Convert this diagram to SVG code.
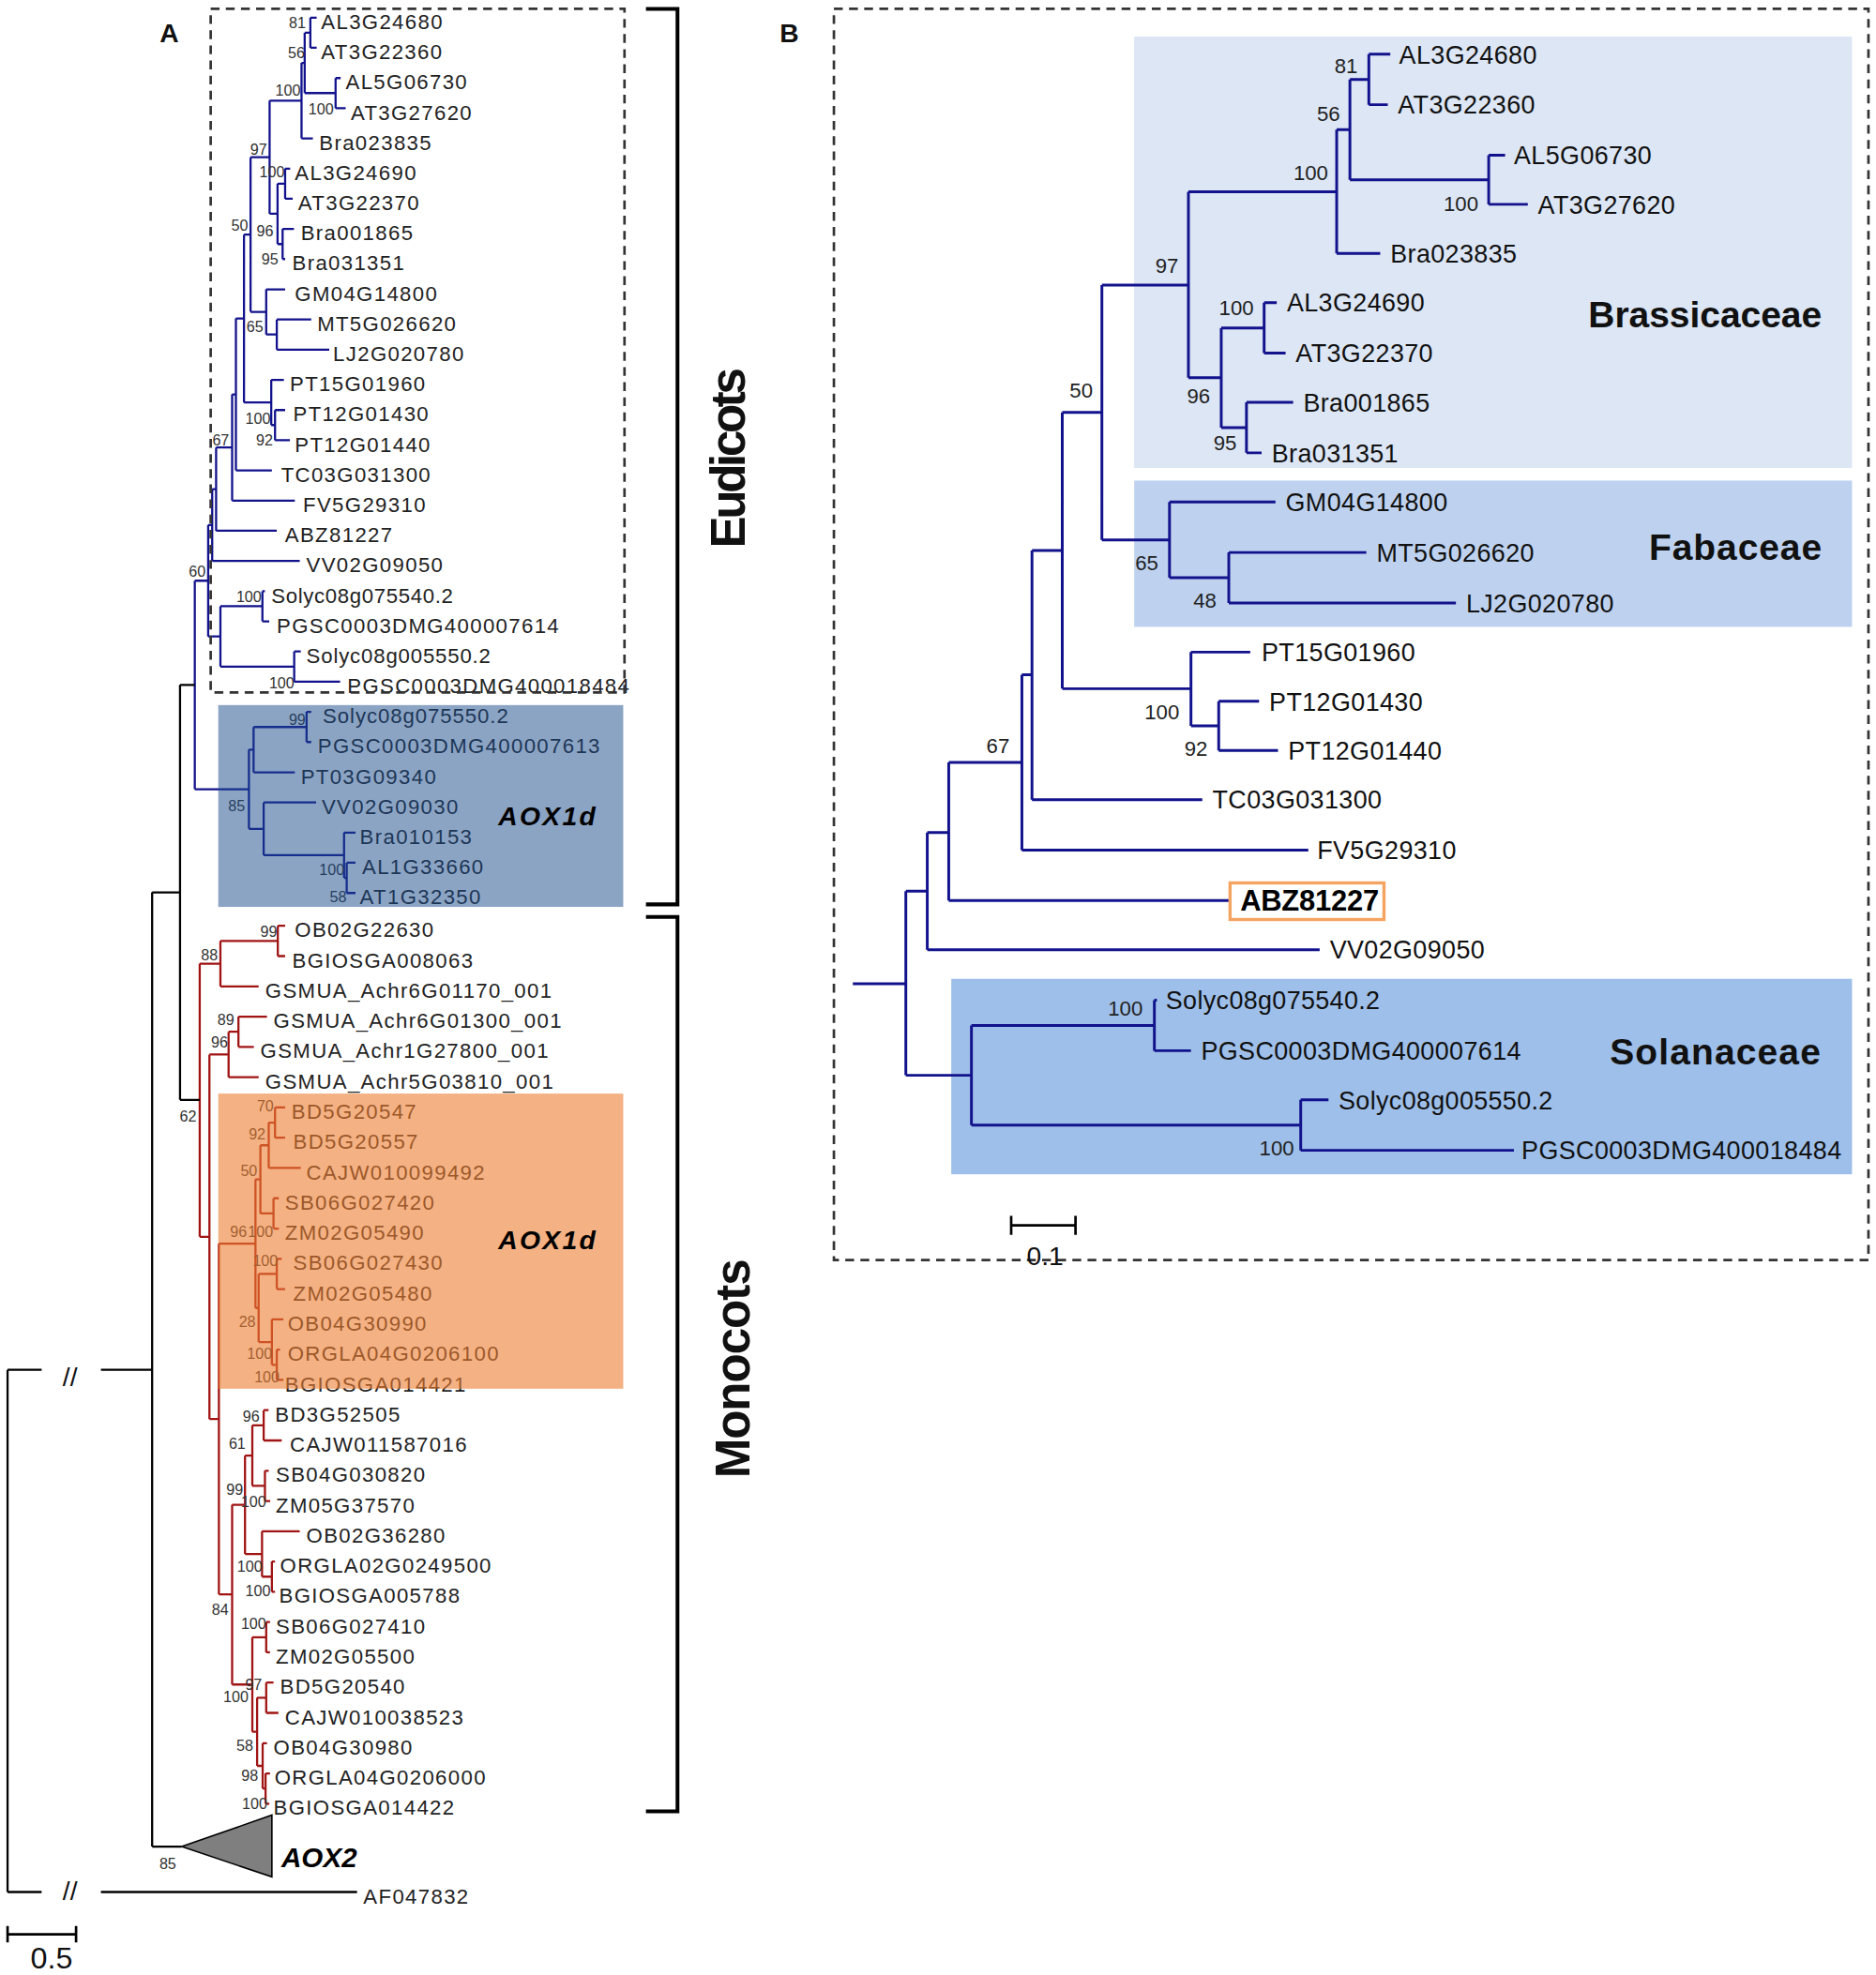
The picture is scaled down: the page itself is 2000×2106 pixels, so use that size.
<svg xmlns="http://www.w3.org/2000/svg" width="2000" height="2106" viewBox="0 0 2000 2106">
<style>
.lf{font-family:"Liberation Sans",Arial,sans-serif;font-size:16.5px;letter-spacing:1px;fill:#222}
.bs{font-family:"Liberation Sans",Arial,sans-serif;font-size:12px;fill:#333;text-anchor:middle}
.lfB{font-family:"Liberation Sans",Arial,sans-serif;font-size:20px;letter-spacing:0.3px;fill:#111}
.bsB{font-family:"Liberation Sans",Arial,sans-serif;font-size:16.5px;fill:#222;text-anchor:middle}
.grp{font-family:"Liberation Sans",Arial,sans-serif;font-weight:bold;fill:#111}
.bi{font-family:"Liberation Sans",Arial,sans-serif;font-weight:bold;font-style:italic;fill:#000}
.blue{fill:none;stroke:#12128c;stroke-width:1.7}
.red{fill:none;stroke:#a01414;stroke-width:1.7}
.blk{fill:none;stroke:#000;stroke-width:1.7}
.blueB{fill:none;stroke:#12128c;stroke-width:2.2}
.dash{fill:none;stroke:#333;stroke-width:2;stroke-dasharray:7,5}
</style>
<rect width="2000" height="2106" fill="#fff"/>
<g transform="scale(1.345)">
<!-- ===================== PANEL A ===================== -->
<g id="panelA">
<text class="grp" x="126.5" y="33.5" font-size="21">A</text>
<g id="A-connectors">
<path class="blue" d="M246,14V37.9M246,14H251M246,37.9H251
M266,61.9V85.8M266,61.9H270M266,85.8H274
M241.5,26V73.8M241.5,26H246M241.5,73.8H266
M239,49.9V109.7M239,49.9H241.5M239,109.7H248
M226,133.7V157.6M226,133.7H230M226,157.6H232
M224,181.5V205.4M224,181.5H233M224,205.4H226
M220,145.6V193.5M220,145.6H226M220,193.5H224
M213.7,79.8V169.5M213.7,79.8H239M213.7,169.5H220
M219.4,253.3V277.2M219.4,253.3H246.7M219.4,277.2H261
M211,229.4V265.2M211,229.4H226M211,265.2H219.4
M198.6,124.7V247.3M198.6,124.7H213.7M198.6,247.3H211
M218,325.1V349M218,325.1H226M218,349H229.8
M215,301.2V337M215,301.2H225M215,337H218
M193.4,186V319.1M193.4,186H198.6M193.4,319.1H215
M187,252.5V372.9M187,252.5H193.4M187,372.9H215.5
M184,312.7V396.9M184,312.7H187M184,396.9H233.7
M171.3,354.8V420.8M171.3,354.8H184M171.3,420.8H219.4
M168.2,387.8V444.7M168.2,387.8H171.3M168.2,444.7H237.6
M208,468.7V492.6M208,468.7H210M208,492.6H213.4
M233.2,516.5V540.5M233.2,516.5H238.4M233.2,540.5H269.6
M174.7,480.6V528.5M174.7,480.6H208M174.7,528.5H233.2
M165,416.2V504.6M165,416.2H168.2M165,504.6H174.7
M243,564.4V588.3M243,564.4H246.7M243,588.3H246.7
M201,576.4V612.3M201,576.4H243M201,612.3H233.7
M274.8,684V708M274.8,684H281.8M274.8,708H281.8
M272.7,660.1V696M272.7,660.1H281.8M272.7,696H274.8
M209,636.2V678M209,636.2H250.6M209,678H272.7
M197.3,594.3V657.1M197.3,594.3H201M197.3,657.1H209
M154.4,460.4V625.7M154.4,460.4H165M154.4,625.7H197.3"/>
<path class="red" d="M220.2,734V758M220.2,734H226M220.2,758H226
M174.7,746V782M174.7,746H220.2M174.7,782H205
M189,806V830M189,806H211.6M189,830H201.2
M181.2,818V854M181.2,818H189M181.2,854H205
M218,878V902M218,878H226M218,902H226
M213,890V926M213,890H218M213,926H238.4
M216.8,950V974M216.8,950H221M216.8,974H221
M206.4,908V962M206.4,908H213M206.4,962H216.8
M219.4,998V1022M219.4,998H223.3M219.4,1022H226
M219.4,1070V1094M219.4,1070H222M219.4,1094H224.6
M215.5,1046V1082M215.5,1046H224.6M215.5,1082H219.4
M205,1010V1064M205,1010H219.4M205,1064H215.5
M202.5,935V1037M202.5,935H206.4M202.5,1037H205
M209,1118V1142M209,1118H212.9M209,1142H223.3
M210,1166V1190M210,1166H213M210,1190H214.2
M200,1130V1178M200,1130H209M200,1178H210
M215.5,1238V1262M215.5,1238H218M215.5,1262H218
M207.7,1214V1250M207.7,1214H237.6M207.7,1250H215.5
M194.2,1154V1232M194.2,1154H200M194.2,1232H207.7
M211,1286V1310M211,1286H214M211,1310H214
M211,1334V1358M211,1334H216.8M211,1358H220.7
M210.5,1406V1430M210.5,1406H214M210.5,1430H213.5
M208.2,1382V1418M208.2,1382H211.6M208.2,1418H210.5
M203.8,1346V1400M203.8,1346H211M203.8,1400H208.2
M200,1298V1373M200,1298H211M200,1373H203.8
M184,1193V1335.5M184,1193H194.2M184,1335.5H200
M173.5,986V1264M173.5,986H202.5M173.5,1264H184
M166,836V1125M166,836H181.2M166,1125H173.5
M158.3,764V980.5M158.3,764H174.7M158.3,980.5H166"/>
<path class="blk" d="M142.7,543V872M142.7,543H154.4M142.7,872H158.3
M120.6,707.5V1464M120.6,707.5H142.7M120.6,1464H144
M6,1086V1500M6,1086H33M80,1086H120.6M6,1500H33M80,1500H283"/>
</g>
<g id="A-AOX2">
<polygon points="144,1464 215.5,1439 215.5,1488" fill="#7f7f7f" stroke="#000" stroke-width="1.2"/>
<text class="bi" x="223" y="1480" font-size="22" textLength="60">AOX2</text>
</g>
<g id="A-breaks" font-family="Liberation Sans, Arial, sans-serif" font-size="21" fill="#111" text-anchor="middle">
<text x="55.5" y="1099">//</text>
<text x="55.5" y="1506">//</text>
</g>
<g id="A-leaves">
<text class="lf" x="254.5" y="23">AL3G24680</text>
<text class="lf" x="254.5" y="46.9">AT3G22360</text>
<text class="lf" x="274" y="70.9">AL5G06730</text>
<text class="lf" x="278" y="94.8">AT3G27620</text>
<text class="lf" x="253" y="118.7">Bra023835</text>
<text class="lf" x="233.7" y="142.7">AL3G24690</text>
<text class="lf" x="236.3" y="166.6">AT3G22370</text>
<text class="lf" x="238.4" y="190.5">Bra001865</text>
<text class="lf" x="231.6" y="214.4">Bra031351</text>
<text class="lf" x="233.7" y="238.4">GM04G14800</text>
<text class="lf" x="251.4" y="262.3">MT5G026620</text>
<text class="lf" x="264" y="286.2">LJ2G020780</text>
<text class="lf" x="229.8" y="310.2">PT15G01960</text>
<text class="lf" x="232.4" y="334.1">PT12G01430</text>
<text class="lf" x="233.7" y="358">PT12G01440</text>
<text class="lf" x="222.8" y="381.9">TC03G031300</text>
<text class="lf" x="240.2" y="405.9">FV5G29310</text>
<text class="lf" x="225.9" y="429.8">ABZ81227</text>
<text class="lf" x="242.8" y="453.7">VV02G09050</text>
<text class="lf" x="215" y="477.7" textLength="145">Solyc08g075540.2</text>
<text class="lf" x="219.4" y="501.6">PGSC0003DMG400007614</text>
<text class="lf" x="242.8" y="525.5" textLength="147">Solyc08g005550.2</text>
<text class="lf" x="275.3" y="549.5">PGSC0003DMG400018484</text>
<text class="lf" x="255.8" y="573.4" textLength="148">Solyc08g075550.2</text>
<text class="lf" x="251.9" y="597.3">PGSC0003DMG400007613</text>
<text class="lf" x="238.4" y="621.3">PT03G09340</text>
<text class="lf" x="255" y="645.2">VV02G09030</text>
<text class="lf" x="285.2" y="669.1">Bra010153</text>
<text class="lf" x="287" y="693">AL1G33660</text>
<text class="lf" x="285.2" y="717">AT1G32350</text>
<text class="lf" x="233.7" y="743">OB02G22630</text>
<text class="lf" x="231.6" y="767">BGIOSGA008063</text>
<text class="lf" x="210.3" y="791">GSMUA_Achr6G01170_001</text>
<text class="lf" x="216.8" y="815">GSMUA_Achr6G01300_001</text>
<text class="lf" x="206.4" y="839">GSMUA_Achr1G27800_001</text>
<text class="lf" x="210.3" y="863">GSMUA_Achr5G03810_001</text>
<text class="lf" x="231.1" y="887">BD5G20547</text>
<text class="lf" x="232.4" y="911">BD5G20557</text>
<text class="lf" x="242.8" y="935">CAJW010099492</text>
<text class="lf" x="225.9" y="959">SB06G027420</text>
<text class="lf" x="225.9" y="983">ZM02G05490</text>
<text class="lf" x="232.4" y="1007">SB06G027430</text>
<text class="lf" x="232.4" y="1031">ZM02G05480</text>
<text class="lf" x="228" y="1055">OB04G30990</text>
<text class="lf" x="228" y="1079">ORGLA04G0206100</text>
<text class="lf" x="225.9" y="1103">BGIOSGA014421</text>
<text class="lf" x="218.1" y="1127">BD3G52505</text>
<text class="lf" x="229.8" y="1151">CAJW011587016</text>
<text class="lf" x="218.6" y="1175">SB04G030820</text>
<text class="lf" x="218.6" y="1199">ZM05G37570</text>
<text class="lf" x="242.8" y="1223">OB02G36280</text>
<text class="lf" x="222" y="1247">ORGLA02G0249500</text>
<text class="lf" x="221.2" y="1271">BGIOSGA005788</text>
<text class="lf" x="218.6" y="1295">SB06G027410</text>
<text class="lf" x="218.6" y="1319">ZM02G05500</text>
<text class="lf" x="222" y="1343">BD5G20540</text>
<text class="lf" x="225.9" y="1367">CAJW010038523</text>
<text class="lf" x="216.8" y="1391">OB04G30980</text>
<text class="lf" x="217.6" y="1415">ORGLA04G0206000</text>
<text class="lf" x="216.8" y="1439">BGIOSGA014422</text>
<text class="lf" x="288" y="1509">AF047832</text>
</g>
<g id="A-bootstrap">
<text class="bs" x="235.7" y="22.6">81</text>
<text class="bs" x="235" y="46">56</text>
<text class="bs" x="228.3" y="76">100</text>
<text class="bs" x="254.5" y="90.8">100</text>
<text class="bs" x="205" y="123">97</text>
<text class="bs" x="215.6" y="140.4">100</text>
<text class="bs" x="190" y="182.6">50</text>
<text class="bs" x="210" y="187.5">96</text>
<text class="bs" x="214" y="209.8">95</text>
<text class="bs" x="202" y="263">65</text>
<text class="bs" x="204.5" y="336">100</text>
<text class="bs" x="209.6" y="353">92</text>
<text class="bs" x="175" y="353.4">67</text>
<text class="bs" x="156.3" y="457.6">60</text>
<text class="bs" x="197.3" y="477.4">100</text>
<text class="bs" x="223.3" y="545.6">100</text>
<text class="bs" x="235.6" y="575">99</text>
<text class="bs" x="187.5" y="643.3">85</text>
<text class="bs" x="263" y="694">100</text>
<text class="bs" x="268" y="715">58</text>
<text class="bs" x="213" y="742.5">99</text>
<text class="bs" x="166" y="761">88</text>
<text class="bs" x="179" y="813">89</text>
<text class="bs" x="174" y="830.6">96</text>
<text class="bs" x="149" y="889">62</text>
<text class="bs" x="210.3" y="881.4">70</text>
<text class="bs" x="203.8" y="903.7">92</text>
<text class="bs" x="197.3" y="932">50</text>
<text class="bs" x="189" y="980.5">96</text>
<text class="bs" x="206.5" y="980.5">100</text>
<text class="bs" x="210.3" y="1004">100</text>
<text class="bs" x="196" y="1052.4">28</text>
<text class="bs" x="205.8" y="1077">100</text>
<text class="bs" x="211.6" y="1095.8">100</text>
<text class="bs" x="199" y="1126.8">96</text>
<text class="bs" x="188" y="1149">61</text>
<text class="bs" x="186" y="1185">99</text>
<text class="bs" x="201" y="1195">100</text>
<text class="bs" x="198" y="1245.8">100</text>
<text class="bs" x="204.5" y="1265.6">100</text>
<text class="bs" x="174.5" y="1280.5">84</text>
<text class="bs" x="201" y="1291.7">100</text>
<text class="bs" x="201" y="1339.9">97</text>
<text class="bs" x="187" y="1349.8">100</text>
<text class="bs" x="194" y="1388.2">58</text>
<text class="bs" x="198" y="1411.8">98</text>
<text class="bs" x="201.8" y="1434">100</text>
<text class="bs" x="133" y="1482" font-size="14">85</text>
</g>
<g id="A-AOX1d-eudicot">
<rect x="173" y="559" width="321" height="160" fill="#194989" fill-opacity="0.5"/>
<text class="bi" x="395" y="654" font-size="21" textLength="77">AOX1d</text>
</g>
<g id="A-AOX1d-monocot">
<rect x="173" y="867" width="321" height="234" fill="#ED7D31" fill-opacity="0.6"/>
<text class="bi" x="395" y="990" font-size="21" textLength="77">AOX1d</text>
</g>
<rect id="A-eudicot-frame" class="dash" x="167" y="7" width="328" height="542"/>
<g id="A-brackets">
<path d="M512,7H537V717H512M512,727H537V1436H512" fill="none" stroke="#000" stroke-width="3"/>
<text class="grp" font-size="38" textLength="143" transform="translate(590,434.5) rotate(-90)">Eudicots</text>
<text class="grp" font-size="38" textLength="174" transform="translate(594,1172) rotate(-90)">Monocots</text>
</g>
<g id="A-scale">
<path d="M6,1533.5H60.3M6,1527V1540M60.3,1527V1540" fill="none" stroke="#000" stroke-width="2"/>
<text x="40.9" y="1560.5" font-family="Liberation Sans, Arial, sans-serif" font-size="24" fill="#111" text-anchor="middle">0.5</text>
</g>
</g>
<!-- ===================== PANEL B ===================== -->
<g id="panelB">
<text class="grp" x="618" y="33.5" font-size="21">B</text>
<rect id="B-frame" class="dash" x="661" y="7" width="820" height="992"/>
<g id="B-Brassicaceae">
<rect x="899" y="29" width="569" height="342" fill="#dce6f5"/>
<text class="grp" x="1259" y="259.5" font-size="29" textLength="185">Brassicaceae</text>
</g>
<g id="B-Fabaceae">
<rect x="899" y="381" width="569" height="116" fill="#bed2ef"/>
<text class="grp" x="1307" y="443.5" font-size="29" textLength="137">Fabaceae</text>
</g>
<g id="B-Solanaceae">
<rect x="754" y="776" width="714" height="155" fill="#9ebfe9"/>
<text class="grp" x="1276" y="843.5" font-size="29" textLength="167">Solanaceae</text>
</g>
<g id="B-connectors">
<path class="blueB" d="M1085,43V83M1085,43H1102M1085,83H1100
M1180,123V162M1180,123H1193M1180,162H1211
M1070,63V142.5M1070,63H1085M1070,142.5H1180
M1059.5,102.75V201M1059.5,102.75H1070M1059.5,201H1094
M1002,240V280M1002,240H1012M1002,280H1019
M988,319V359M988,319H1025M988,359H1000
M968,260V339M968,260H1002M968,339H988
M942,152V299.5M942,152H1059.5M942,299.5H968
M974,438V478M974,438H1083M974,478H1154
M927,398V458M927,398H1011M927,458H974
M873.4,226V428M873.4,226H942M873.4,428H927
M966,556V595M966,556H998M966,595H1013
M944,517V575.5M944,517H991M944,575.5H966
M842,327V546M842,327H873.4M842,546H944
M818,436.5V634M818,436.5H842M818,634H953
M810,535V674M810,535H818M810,674H1037
M752,604.5V714M752,604.5H810M752,714H975
M735,660V753M735,660H752M735,753H1046
M915,793V833M915,793H917M915,833H944
M1031,872V912M1031,872H1053M1031,912H1200
M770,813V892M770,813H915M770,892H1031
M718,706.5V852.5M718,706.5H735M718,852.5H770
M676,780H718"/>
</g>
<g id="B-leaves">
<text class="lfB" x="1109" y="50.2">AL3G24680</text>
<text class="lfB" x="1108" y="90.2">AT3G22360</text>
<text class="lfB" x="1200" y="130.2">AL5G06730</text>
<text class="lfB" x="1219" y="169.2">AT3G27620</text>
<text class="lfB" x="1102" y="208.2">Bra023835</text>
<text class="lfB" x="1020" y="247.2">AL3G24690</text>
<text class="lfB" x="1027" y="287.2">AT3G22370</text>
<text class="lfB" x="1033" y="326.2">Bra001865</text>
<text class="lfB" x="1008" y="366.2">Bra031351</text>
<text class="lfB" x="1019" y="405.2">GM04G14800</text>
<text class="lfB" x="1091" y="445.2">MT5G026620</text>
<text class="lfB" x="1162" y="485.2">LJ2G020780</text>
<text class="lfB" x="1000" y="524.2">PT15G01960</text>
<text class="lfB" x="1006" y="563.2">PT12G01430</text>
<text class="lfB" x="1021" y="602.2">PT12G01440</text>
<text class="lfB" x="961" y="641.2">TC03G031300</text>
<text class="lfB" x="1044" y="681.2">FV5G29310</text>
<text class="lfB" x="1054" y="760.2">VV02G09050</text>
<text class="lfB" x="924" y="800.2" textLength="170">Solyc08g075540.2</text>
<text class="lfB" x="952" y="840.2">PGSC0003DMG400007614</text>
<text class="lfB" x="1061" y="879.2" textLength="170">Solyc08g005550.2</text>
<text class="lfB" x="1206" y="919.2">PGSC0003DMG400018484</text>
</g>
<g id="B-ABZ81227">
<rect x="975" y="700" width="122" height="29" fill="#fff" stroke="#f4a460" stroke-width="2.5"/>
<text x="983" y="722" font-family="Liberation Sans, Arial, sans-serif" font-weight="bold" font-size="23" fill="#000" textLength="110">ABZ81227</text>
</g>
<g id="B-bootstrap">
<text class="bsB" x="1067" y="58">81</text>
<text class="bsB" x="1053" y="96">56</text>
<text class="bsB" x="1039" y="143">100</text>
<text class="bsB" x="1158" y="167">100</text>
<text class="bsB" x="925" y="216">97</text>
<text class="bsB" x="980" y="250">100</text>
<text class="bsB" x="950" y="320">96</text>
<text class="bsB" x="971" y="357">95</text>
<text class="bsB" x="857" y="315">50</text>
<text class="bsB" x="909" y="452">65</text>
<text class="bsB" x="955" y="482">48</text>
<text class="bsB" x="921" y="570">100</text>
<text class="bsB" x="948" y="599">92</text>
<text class="bsB" x="791" y="597">67</text>
<text class="bsB" x="892" y="805">100</text>
<text class="bsB" x="1012" y="916">100</text>
</g>
<g id="B-scale">
<path d="M801.5,971.5H852.5M801.5,964V979M852.5,964V979" fill="none" stroke="#000" stroke-width="2"/>
<text x="828.3" y="1003" font-family="Liberation Sans, Arial, sans-serif" font-size="21" fill="#111" text-anchor="middle">0.1</text>
</g>
</g>
</g>
</svg>
